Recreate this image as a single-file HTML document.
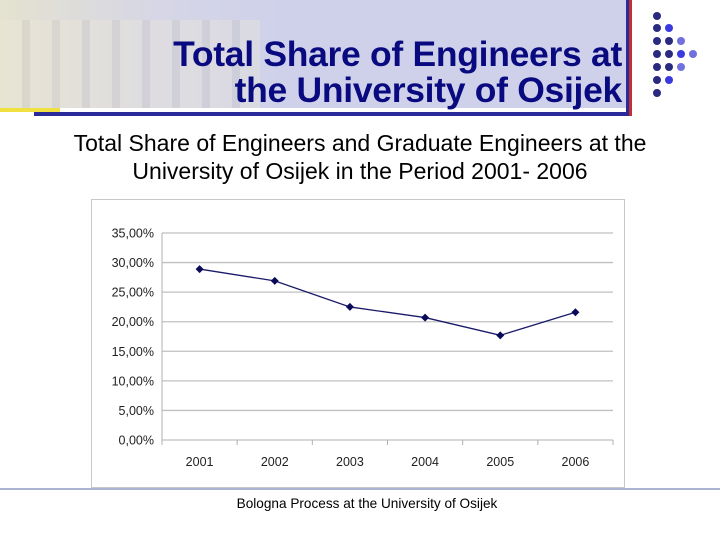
<!DOCTYPE html>
<html><head><meta charset="utf-8"><style>
body{margin:0;width:720px;height:540px;overflow:hidden;background:#fff;font-family:"Liberation Sans",sans-serif;position:relative}
.a{position:absolute}
</style></head><body>
<div class="a" style="left:0;top:0;width:626px;height:108px;background:linear-gradient(90deg,#e4e2d0 0%,#d6d6e6 25%,#cfd1ea 45%,#cfd1ea 100%)"></div>
<div class="a" style="left:0;top:20px;width:260px;height:88px;background:repeating-linear-gradient(90deg,#ece8d6 0 22px,#c8c6c0 22px 30px);opacity:.35"></div>
<div class="a" style="right:98px;top:36px;text-align:right;color:#0a0a80;font-weight:bold;font-size:35.5px;line-height:36px;letter-spacing:-0.3px">Total Share of Engineers at<br>the University of Osijek</div>
<div class="a" style="left:0;top:108px;width:60px;height:4px;background:#f0e040"></div>
<div class="a" style="left:34px;top:112px;width:594px;height:4px;background:#2a2a9a"></div>
<div class="a" style="left:626px;top:0;width:3px;height:116px;background:#2a2a9a"></div>
<div class="a" style="left:629px;top:0;width:3px;height:116px;background:#c03030"></div>
<svg class="a" style="left:645px;top:8px" width="70" height="100">
<g fill="#2a2a80"><circle cx="12" cy="8" r="4"/><circle cx="12" cy="20" r="4"/><circle cx="12" cy="33" r="4"/><circle cx="12" cy="46" r="4"/><circle cx="12" cy="59" r="4"/><circle cx="12" cy="72" r="4"/><circle cx="12" cy="85" r="4"/><circle cx="24" cy="33" r="4"/><circle cx="24" cy="46" r="4"/><circle cx="24" cy="59" r="4"/></g>
<g fill="#3a3ae0"><circle cx="24" cy="20" r="4"/><circle cx="24" cy="72" r="4"/><circle cx="36" cy="46" r="4"/></g>
<g fill="#7070e0"><circle cx="36" cy="33" r="4"/><circle cx="36" cy="59" r="4"/><circle cx="48" cy="46" r="4"/></g></svg>
<div class="a" style="left:0;width:720px;top:129px;text-align:center;font-size:23px;line-height:28px;color:#000">Total Share of Engineers and Graduate Engineers at the<br>University of Osijek in the Period 2001- 2006</div>
<div class="a" style="left:91px;top:199px;width:532px;height:287px;border:1px solid #c8c8c8"></div>
<svg class="a" id="chart" style="left:0;top:0" width="720" height="540"></svg>
<div class="a" style="left:0;top:488px;width:720px;height:2px;background:#a8b4d0"></div>
<div class="a" style="left:0;width:734px;top:496px;text-align:center;font-size:13.6px">Bologna Process at the University of Osijek</div>
<script>
const categories=["2001","2002","2003","2004","2005","2006"];
const values=[28.9,26.9,22.5,20.7,17.7,21.6];
const tickValues=[0,5,10,15,20,25,30,35];
const tickLabels=["0,00%","5,00%","10,00%","15,00%","20,00%","25,00%","30,00%","35,00%"];
const svg=document.getElementById('chart');const NS='http://www.w3.org/2000/svg';
const x0=162,x1=613,y0=440,y1=233;
const band=(x1-x0)/categories.length;
const xs=i=>x0+band*(i+0.5);
const ys=v=>y0-(v/35)*(y0-y1);
function mk(t,a){const e=document.createElementNS(NS,t);for(const k in a)e.setAttribute(k,a[k]);svg.appendChild(e);return e;}
tickValues.forEach((v,i)=>{
 const g=mk('line',{x1:x0,x2:x1,y1:ys(v),y2:ys(v),stroke:'#c0c0c0','stroke-width':1.3});
 
 
 const t=mk('text',{x:154,y:ys(v)+4.5,'text-anchor':'end','font-size':12.5,'font-family':'Liberation Sans, sans-serif',fill:'#222'});
 t.textContent=tickLabels[i];
 
 
});
const ax=mk('line',{x1:x0,x2:x0,y1:y1,y2:y0+4,stroke:'#b0b0b0'});


for(let i=0;i<=categories.length;i++){const tk=mk('line',{x1:x0+band*i,x2:x0+band*i,y1:y0,y2:y0+5,stroke:'#b0b0b0'});
 
 }
categories.forEach((c,i)=>{const t=mk('text',{x:xs(i),y:466,'text-anchor':'middle','font-size':12.5,'font-family':'Liberation Sans, sans-serif',fill:'#222'});t.textContent=c;
 
 });
const pl=mk('polyline',{points:values.map((v,i)=>xs(i)+','+ys(v)).join(' '),fill:'none',stroke:'#1a1a6a','stroke-width':1.3});


values.forEach((v,i)=>{const cx=xs(i),cy=ys(v);const p=mk('polygon',{points:`${cx},${cy-4} ${cx+4},${cy} ${cx},${cy+4} ${cx-4},${cy}`,fill:'#0a0a5a'});
 
 });
</script>
</body></html>
